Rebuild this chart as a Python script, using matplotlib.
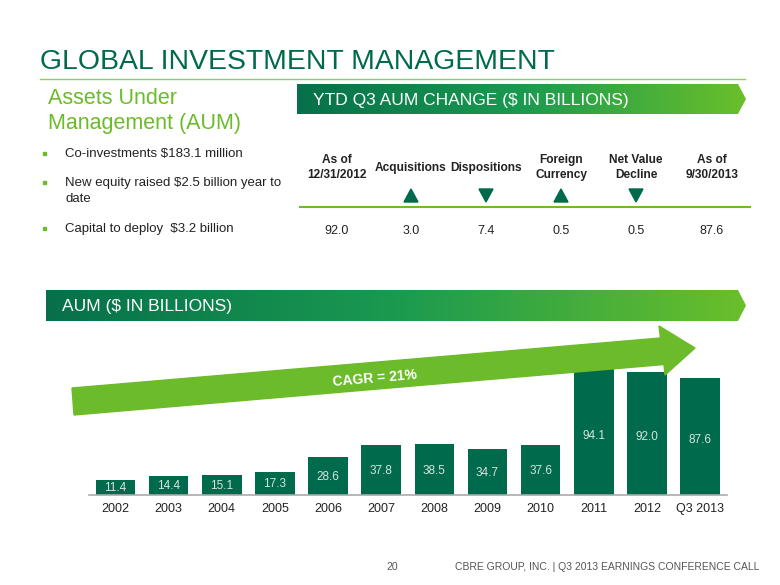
import numpy as np
import matplotlib
matplotlib.use('Agg')
import matplotlib.pyplot as plt
from matplotlib.patches import Polygon, Rectangle
from matplotlib.colors import LinearSegmentedColormap

plt.rcParams['font.family'] = ['Liberation Sans', 'DejaVu Sans']

# AUM bar chart data ($ billions)
years = ['2002', '2003', '2004', '2005', '2006', '2007', '2008', '2009', '2010', '2011', '2012', 'Q3 2013']
aum = [11.4, 14.4, 15.1, 17.3, 28.6, 37.8, 38.5, 34.7, 37.6, 94.1, 92.0, 87.6]

# YTD Q3 AUM change table
table_headers = ['As of\n12/31/2012', 'Acquisitions', 'Dispositions', 'Foreign\nCurrency', 'Net Value\nDecline', 'As of\n9/30/2013']
table_values = [92.0, 3.0, 7.4, 0.5, 0.5, 87.6]
table_arrows = ['', 'up', 'down', 'up', 'down', '']

bullets = ['Co-investments $183.1 million',
           'New equity raised $2.5 billion year to\ndate',
           'Capital to deploy  $3.2 billion']

dark_green = '#006a4d'
light_green = '#6cbb2a'

fig = plt.figure(figsize=(7.8, 5.85), dpi=100)

# background axes in pixel coordinates for slide decorations
bg = fig.add_axes([0, 0, 1, 1])
bg.set_xlim(0, 780)
bg.set_ylim(585, 0)
bg.axis('off')

# title
bg.text(40, 62, 'GLOBAL INVESTMENT MANAGEMENT', fontsize=20.4, color=dark_green, va='center', ha='left')
bg.plot([40, 745], [79, 79], color='#8dd05a', lw=1)
bg.text(48, 98, 'Assets Under', fontsize=15.5, color=light_green, va='center')
bg.text(48, 123, 'Management (AUM)', fontsize=15.5, color=light_green, va='center')

# gradient bands
band_cmap = LinearSegmentedColormap.from_list('band', ['#07704a', '#1a9a50', '#6abf2a'])
grad = np.linspace(0, 1, 256).reshape(1, -1)

def band(x0, x1, y0, y1, label):
	ym = (y0 + y1) / 2
	poly = Polygon([(x0, y0), (x1 - 8, y0), (x1, ym), (x1 - 8, y1), (x0, y1)], closed=True,
		facecolor='none', edgecolor='none')
	bg.add_patch(poly)
	im = bg.imshow(grad, extent=[x0, x1, y1, y0], aspect='auto', cmap=band_cmap, zorder=1)
	im.set_clip_path(poly)
	bg.text(x0 + 16, ym + 1, label, fontsize=12.5, color='white', va='center', ha='left', zorder=2)

band(297, 746, 84, 114, 'YTD Q3 AUM CHANGE ($ IN BILLIONS)')
band(46, 746, 290, 321, 'AUM ($ IN BILLIONS)')

# bullets
bullet_y = [154, 183, 229]
for txt, y in zip(bullets, bullet_y):
	bg.add_patch(Rectangle((42.5, y - 2), 3, 3, color=light_green))
	for k, line in enumerate(txt.split('\n')):
		bg.text(65, y + k * 16.5, line, fontsize=9.5, color='#222222', va='center', ha='left')

# change table
col_x = [337, 411, 486, 561, 636, 712]
for x, h, v, a in zip(col_x, table_headers, table_values, table_arrows):
	bg.text(x, 167.5, h, fontsize=8.6, weight='bold', color='#222222', ha='center', va='center', linespacing=1.3)
	bg.text(x, 231, f'{v:.1f}', fontsize=9, color='#222222', ha='center', va='center')
	if a == 'up':
		bg.add_patch(Polygon([(x - 7, 202), (x + 7, 202), (x, 189)], color=dark_green))
	elif a == 'down':
		bg.add_patch(Polygon([(x - 7, 189), (x + 7, 189), (x, 202)], color=dark_green))
bg.plot([300, 750], [206.5, 206.5], color=light_green, lw=1.5)

# footer
bg.text(392, 567, '20', fontsize=7.5, color='#555555', ha='center', va='center')
bg.text(759, 567, 'CBRE GROUP, INC. | Q3 2013 EARNINGS CONFERENCE CALL', fontsize=7.5, color='#555555', ha='right', va='center')
bg.set_xlim(0, 780)
bg.set_ylim(585, 0)

# bar chart
ax = fig.add_axes([88.85 / 780, 1 - 495 / 585, 637.75 / 780, 160.2 / 585])
ax.patch.set_alpha(0)
x = np.arange(len(years))
ax.bar(x, aum, width=0.745, color=dark_green)
for i, v in enumerate(aum):
	ax.text(i, v * 0.47, f'{v:.1f}', color='#d9e4de', ha='center', va='center', fontsize=8.5)
ax.set_xlim(-0.5, len(years) - 0.5)
ax.set_ylim(0, 120)
ax.set_xticks(x)
ax.set_xticklabels(years, fontsize=9, color='#222222')
ax.tick_params(axis='x', length=0, pad=6)
ax.set_yticks([])
for s in ['left', 'right', 'top']:
	ax.spines[s].set_visible(False)
ax.spines['bottom'].set_color('#aaaaaa')
ax.spines['bottom'].set_linewidth(1.2)

# CAGR arrow (drawn over the bars)
arrow = Polygon([(72, 388), (660.5, 338), (659, 326), (695, 348), (665, 375), (664, 364.5), (74, 415)],
	closed=True, color=light_green, transform=bg.transData, zorder=5)
fig.add_artist(arrow)
fig.text(375 / 780, 1 - 378 / 585, 'CAGR = 21%', fontsize=10, weight='bold', color='white',
	rotation=4.9, ha='center', va='center', zorder=6)

plt.savefig('out.png', dpi=100)
